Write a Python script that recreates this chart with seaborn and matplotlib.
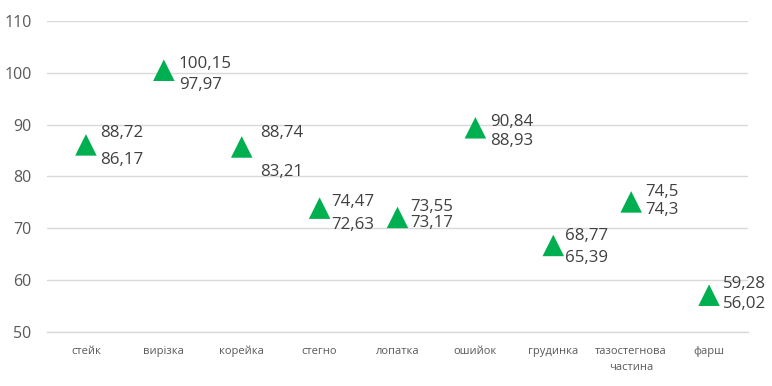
import matplotlib
matplotlib.use("Agg")
import matplotlib.pyplot as plt
import seaborn as sns
import pandas as pd
import numpy as np

categories = ["стейк", "вирізка", "корейка", "стегно", "лопатка", "ошийок",
              "грудинка", "тазостегнова\nчастина", "фарш"]
marker_values = [86.1, 100.5, 85.7, 73.9, 72.1, 89.4, 66.7, 75.1, 57.1]
upper_labels = ["88,72", "100,15", "88,74", "74,47", "73,55", "90,84", "68,77", "74,5", "59,28"]
lower_labels = ["86,17", "97,97", "83,21", "72,63", "73,17", "88,93", "65,39", "74,3", "56,02"]
y_ticks = [50, 60, 70, 80, 90, 100, 110]

# label placement (pixels relative to marker)
upper_dy = [12, 6, 14, 6, 10, 6, 9.5, 10, 11]
lower_dy = [-15, -15, -25, -17, -5.5, -13, -12.5, -8, -9]
label_dx = [14, 15, 18, 12, 13, 15, 12, 14, 14]

sns.set_theme(style="white")
plt.rcParams['font.family'] = ['Open Sans', 'DejaVu Sans']

fig = plt.figure(figsize=(7.72, 3.86), dpi=100)
ax = fig.add_axes([47/772, 1-332/386, (748-47)/772, (332-21)/386])

df = pd.DataFrame({"cat": categories, "val": marker_values})
sns.scatterplot(data=df, x="cat", y="val", marker="^", s=240, color="#00B050",
                edgecolor="none", ax=ax, zorder=3, legend=False)

for i, (v, ul, ll) in enumerate(zip(marker_values, upper_labels, lower_labels)):
    ax.annotate(ul, (i, v), xytext=(label_dx[i], upper_dy[i]), textcoords="offset pixels",
                ha="left", va="center", fontsize=12.2, color="#404040")
    ax.annotate(ll, (i, v), xytext=(label_dx[i], lower_dy[i]), textcoords="offset pixels",
                ha="left", va="center", fontsize=12.2, color="#404040")

ax.set_xlim(-0.5, len(categories) - 0.5)
ax.set_ylim(50, 110)
ax.set_yticks(y_ticks)
ax.set_yticklabels([str(t) for t in y_ticks], fontsize=11.5, color="#595959")
ax.set_xticks(range(len(categories)))
ax.set_xticklabels(categories, fontsize=8, color="#595959", linespacing=1.6)
ax.set_xticks(np.arange(-0.5, len(categories), 1), minor=True)
ax.tick_params(axis="x", which="major", length=0, pad=10)
ax.tick_params(axis="x", which="minor", length=4, color="#d9d9d9", width=1)
ax.tick_params(axis="y", length=0, pad=11)
ax.set_xlabel("")
ax.set_ylabel("")
ax.grid(axis="y", color="#d9d9d9", linewidth=1)
ax.set_axisbelow(True)
for s in ["top", "right", "left"]:
    ax.spines[s].set_visible(False)
ax.spines["bottom"].set_color("#d9d9d9")
ax.spines["bottom"].set_linewidth(1)

fig.savefig("out.png", dpi=100)
